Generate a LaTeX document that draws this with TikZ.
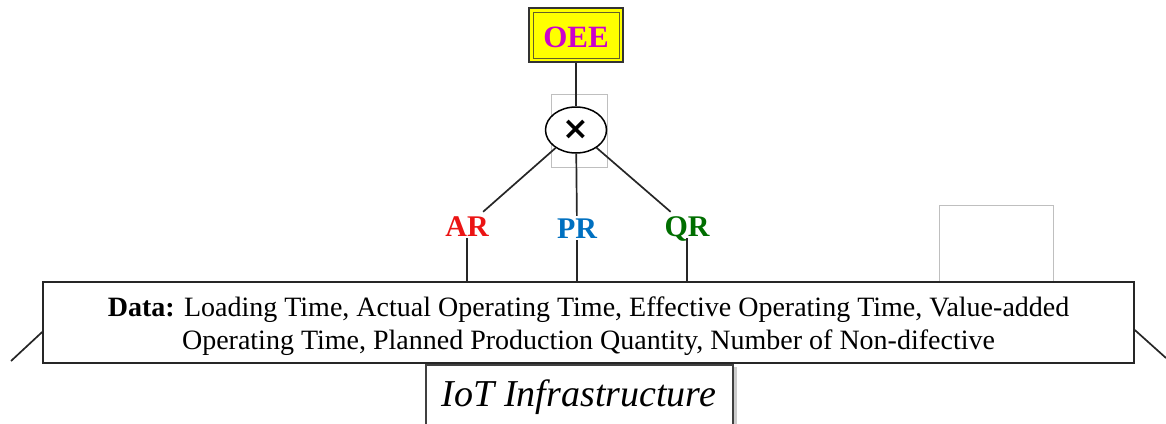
\documentclass[tikz,border=0pt]{standalone}
\usepackage{fontspec}
\setmainfont{Liberation Serif}
\newfontfamily\symfont{DejaVu Sans}
\usetikzlibrary{shapes.geometric}
\definecolor{oeeyellow}{RGB}{255,255,0}
\definecolor{oeemag}{RGB}{204,0,204}
\definecolor{arred}{RGB}{235,20,20}
\definecolor{prblue}{RGB}{0,112,192}
\definecolor{qrgreen}{RGB}{0,110,0}
\tikzset{
  conn/.style={draw=black!85, line width=1.7pt},
  lbl/.style={font=\fontsize{30}{32}\selectfont\bfseries, inner sep=2pt, text height=20pt, text depth=0pt},
  ghost/.style={draw=black!25, line width=0.8pt}
}
\begin{document}
\begin{tikzpicture}[x=1pt,y=-1pt]
\useasboundingbox (0,0) rectangle (1166,423);
% OEE box
\node[minimum width=94pt, minimum height=54pt, fill=oeeyellow, draw=black!80, line width=1.6pt, inner sep=0pt] (oee) at (576,35) {};
\draw[draw=olive!60!black, line width=1pt] (533,12) rectangle (619,58);
\node[font=\fontsize{31}{33}\selectfont\bfseries, text=oeemag] at (576,37) {OEE};
% multiply
\draw[ghost] (551,94) rectangle (607,167);
\node[ellipse, draw=black, line width=1.5pt, minimum width=61pt, minimum height=46pt, inner sep=0pt, fill=white] (mult) at (576,130) {\symfont\fontsize{32}{34}\selectfont\bfseries ×};
% labels
\node[lbl, text=arred] (AR) at (467,226) {AR};
\node[lbl, text=prblue] (PR) at (577,228) {PR};
\node[lbl, text=qrgreen] (QR) at (687,226) {QR};
% ghost box right
\draw[ghost] (939,205) rectangle (1053,282);
% data box
\node[draw=black!85, line width=1.6pt, minimum width=1091pt, minimum height=81pt, inner sep=0pt, fill=white,
      align=center, font=\fontsize{28}{33}\selectfont] (data) at (588.5,322.5)
  {\rule{0pt}{28pt}\textbf{Data:} Loading Time, Actual Operating Time, Effective Operating Time, Value-added\\
   Operating Time, Planned Production Quantity, Number of Non-difective};
% connectors
\draw[conn] (oee) -- (mult);
\draw[conn, shorten >=3pt] (mult) -- (AR);
\draw[conn] (mult) -- (PR);
\draw[conn, shorten >=3pt] (mult) -- (QR);
\draw[conn] (AR) -- (AR |- data.north);
\draw[conn] (PR) -- (PR |- data.north);
\draw[conn] (QR) -- (QR |- data.north);
\coordinate (lend) at (11,361);
\coordinate (rend) at (1166,358);
\draw[conn] (data.west |- 0,332) -- (lend);
\draw[conn] (data.east |- 0,330) -- (rend);
% IoT box
\begin{scope}
\clip (380,363) rectangle (780,423);
\fill[black!20] (430,367) rectangle (737,440);
\node[draw=black!75, line width=1.6pt, fill=white, minimum width=307pt, minimum height=80pt, inner sep=0pt, anchor=north] (iot) at (579.5,364) {};
\node[font=\fontsize{38}{40}\selectfont\itshape] at (579,397) {IoT Infrastructure};
\end{scope}
\end{tikzpicture}
\end{document}
